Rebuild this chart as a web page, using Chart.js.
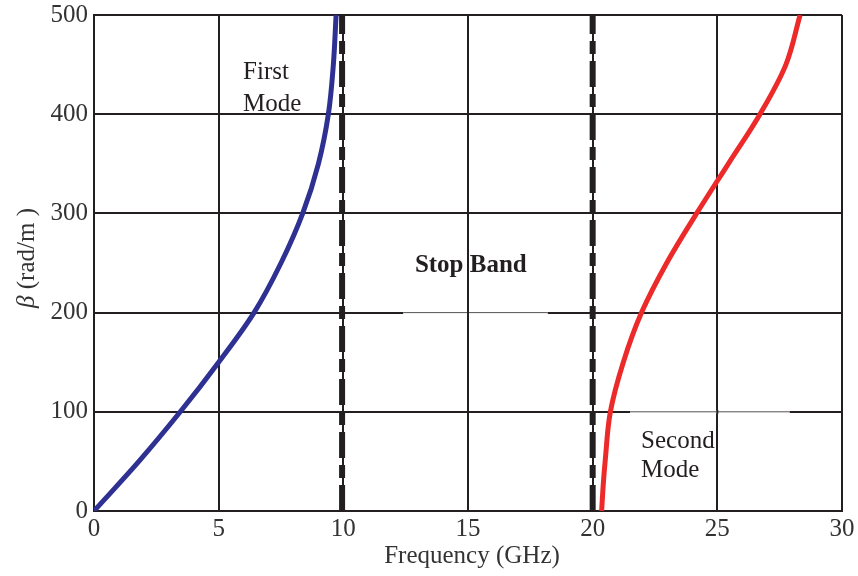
<!DOCTYPE html>
<html>
<head>
<meta charset="utf-8">
<script src="https://cdn.jsdelivr.net/npm/chart.js@4.4.1/dist/chart.umd.min.js"></script>
<style>
html,body{margin:0;padding:0;background:#fff;}
#wrap{width:858px;height:576px;}
</style>
</head>
<body>
<div id="wrap"><canvas id="c" width="858" height="576"></canvas></div>
<script>
// ---- data ----
const betaFirst = [0, 50, 100, 150, 200, 250, 300, 350, 400, 450, 500];
const freqFirst = [0, 1.8, 3.46, 5.0, 6.42, 7.5, 8.37, 9.0, 9.4, 9.6, 9.71];
const betaSecond = [0, 25, 50, 100, 150, 200, 250, 300, 350, 400, 450, 500];
const freqSecond = [20.36, 20.42, 20.5, 20.71, 21.23, 21.96, 22.97, 24.17, 25.44, 26.71, 27.75, 28.32];
const bandEdges = [9.95, 20.0];
const xTicks = [0, 5, 10, 15, 20, 25, 30];
const yTicks = [0, 100, 200, 300, 400, 500];
const labels = {
  x: "Frequency (GHz)",
  ySymbol: "\u03B2",
  yRest: " (rad/m )",
  first: ["First", "Mode"],
  stop: "Stop Band",
  second: ["Second", "Mode"]
};

const SERIF = "'Liberation Serif','Times New Roman',serif";
const INK = "#231f20";

function pts(xs, ys){ return xs.map((x,i)=>({x:x, y:ys[i]})); }

const datasets = [
  {data: pts(freqFirst, betaFirst), borderColor:"#2e3192", borderWidth:5, tension:0.35, pointRadius:0, showLine:true, fill:false},
  {data: pts(freqSecond, betaSecond), borderColor:"#ed2a2a", borderWidth:5, tension:0.35, pointRadius:0, showLine:true, fill:false}
];
bandEdges.forEach(f=>{
  datasets.push({data:[{x:f,y:0},{x:f,y:500}], borderColor:INK, borderWidth:6, borderDash:[26,7,13,7], pointRadius:0, showLine:true, fill:false});
});

const textPlugin = {
  id:"texts",
  afterDraw(chart){
    const ctx = chart.ctx, xs = chart.scales.x, ys = chart.scales.y, ca = chart.chartArea;
    ctx.save();
    // thin the grid line where the label boxes overlay it (as in reference)
    const y200 = ys.getPixelForValue(200), y100 = ys.getPixelForValue(100);
    const a1 = xs.getPixelForValue(12.4), b1 = xs.getPixelForValue(18.2);
    const a2 = xs.getPixelForValue(21.5), b2 = xs.getPixelForValue(27.9);
    ctx.fillStyle = "#fff";
    ctx.fillRect(a1, y200-1.5, b1-a1, 3);
    ctx.fillRect(a2, y100-1.5, b2-a2, 3);
    ctx.fillStyle = "#555";
    ctx.fillRect(a1, y200-0.5, b1-a1, 1);
    ctx.fillRect(a2, y100-0.5, b2-a2, 1);
    ctx.fillStyle = INK;
    ctx.fillRect(xs.getPixelForValue(15)-1, y200-2, 2, 4);
    ctx.fillRect(xs.getPixelForValue(25)-1, y100-2, 2, 4);

    ctx.fillStyle = INK;
    ctx.textAlign = "left";
    ctx.textBaseline = "alphabetic";
    ctx.font = "25px " + SERIF;
    ctx.fillText(labels.first[0], xs.getPixelForValue(5.98), ys.getPixelForValue(435));
    ctx.fillText(labels.first[1], xs.getPixelForValue(5.98), ys.getPixelForValue(403));
    ctx.fillText(labels.second[0], xs.getPixelForValue(21.94), ys.getPixelForValue(64));
    ctx.fillText(labels.second[1], xs.getPixelForValue(21.94), ys.getPixelForValue(34));
    ctx.font = "bold 25px " + SERIF;
    ctx.fillText(labels.stop, xs.getPixelForValue(12.87), ys.getPixelForValue(241));

    // x title
    ctx.fillStyle = "#333";
    ctx.textAlign = "center";
    ctx.font = "25px " + SERIF;
    ctx.fillText(labels.x, 472, 563);

    // y title (rotated, italic beta)
    ctx.translate(34, 258);
    ctx.rotate(-Math.PI/2);
    ctx.textAlign = "left";
    ctx.font = "italic 25px " + SERIF;
    const w1 = ctx.measureText(labels.ySymbol).width;
    ctx.font = "25px " + SERIF;
    const w2 = ctx.measureText(labels.yRest).width;
    let x0 = -(w1+w2)/2;
    ctx.font = "italic 25px " + SERIF;
    ctx.fillText(labels.ySymbol, x0, 0);
    ctx.font = "25px " + SERIF;
    ctx.fillText(labels.yRest, x0 + w1, 0);
    ctx.restore();
  }
};

new Chart(document.getElementById("c"), {
  type: "scatter",
  data: {datasets},
  options: {
    responsive:false,
    animation:false,
    devicePixelRatio:1,
    layout:{padding:{top:15, right:16, left:0, bottom:0}},
    plugins:{legend:{display:false}, tooltip:{enabled:false}, title:{display:false}},
    scales:{
      x:{
        type:"linear", min:0, max:30,
        afterBuildTicks(axis){ axis.ticks = xTicks.map(v=>({value:v})); },
        afterFit(axis){ axis.height = 65; axis.paddingLeft = 0; axis.paddingRight = 0; },
        ticks:{font:{family:SERIF, size:25}, color:"#333", padding:3},
        grid:{color:INK, lineWidth:2, drawTicks:false},
        border:{color:INK, width:2}
      },
      y:{
        type:"linear", min:0, max:500,
        afterBuildTicks(axis){ axis.ticks = yTicks.map(v=>({value:v})); },
        afterFit(axis){ axis.width = 94; axis.paddingTop = 0; axis.paddingBottom = 0; },
        ticks:{font:{family:SERIF, size:25}, color:"#333", padding:6},
        grid:{color:INK, lineWidth:2, drawTicks:false},
        border:{color:INK, width:2}
      }
    }
  },
  plugins:[textPlugin]
});
</script>
</body>
</html>
